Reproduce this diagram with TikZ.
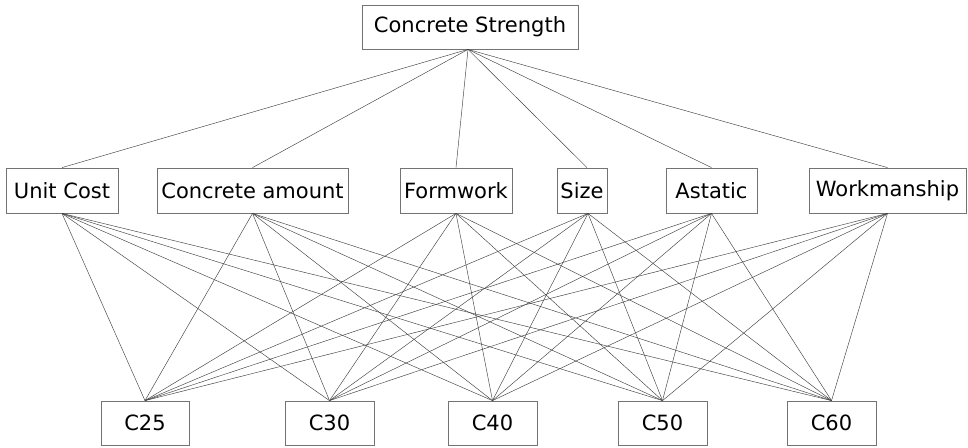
\documentclass[tikz,border=0pt]{standalone}
\usepackage{fontspec}
\setmainfont{DejaVu Sans}
\begin{document}
\begin{tikzpicture}[x=1pt,y=1pt,
  box/.style={draw=black!55,line width=0.8pt,inner sep=0pt,font=\fontsize{21}{24}\selectfont,text=black},
  topbox/.style={box,minimum height=44pt},
  midbox/.style={box,minimum height=45pt},
  botbox/.style={box,minimum height=44pt,minimum width=89pt},
  link/.style={draw=black!75,line width=0.45pt}]
\useasboundingbox (0,0) rectangle (968,-447);
\node[topbox,minimum width=216pt] (cs) at (470,-27) {Concrete Strength};
\node[midbox,minimum width=112pt] (uc) at (62,-190.5) {Unit Cost};
\node[midbox,minimum width=191pt] (ca) at (252.5,-190.5) {Concrete amount};
\node[midbox,minimum width=112pt] (fw) at (456,-190.5) {Formwork};
\node[midbox,minimum width=50pt] (sz) at (582,-190.5) {Size};
\node[midbox,minimum width=91pt] (as) at (711.5,-190.5) {Astatic};
\node[midbox,minimum width=157pt] (wm) at (887.5,-190.5) {Workmanship};
\node[botbox,minimum width=88pt] (c25) at (145,-423) {C25};
\node[botbox] (c30) at (329.5,-423) {C30};
\node[botbox] (c40) at (492.5,-423) {C40};
\node[botbox] (c50) at (662.5,-423) {C50};
\node[botbox] (c60) at (831.5,-423) {C60};
\coordinate (csb) at ([xshift=-2pt]cs.south);
\coordinate (szt) at ([xshift=5pt]sz.north);
\coordinate (szb) at ([xshift=6pt]sz.south);
\foreach \m in {uc,ca,fw,as,wm} \draw[link] (csb) -- (\m.north);
\draw[link] (csb) -- (szt);
\foreach \b in {c25,c30,c40,c50,c60} {
  \foreach \m in {uc,ca,fw,as,wm} \draw[link] (\m.south) -- (\b.north);
  \draw[link] (szb) -- (\b.north);
}
\end{tikzpicture}
\end{document}
